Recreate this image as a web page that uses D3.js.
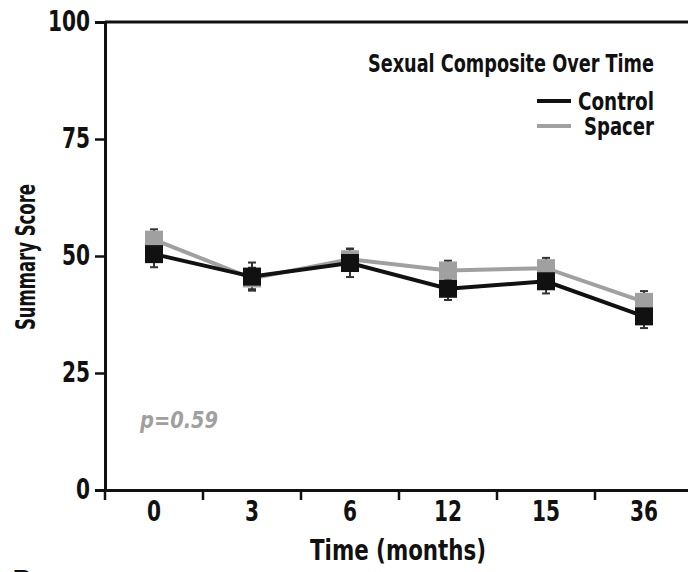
<!DOCTYPE html>
<html>
<head>
<meta charset="utf-8">
<script src="https://cdn.jsdelivr.net/npm/d3@7"></script>
<style>
  body { margin: 0; background: #fff; }
  svg text { font-family: "DejaVu Sans Condensed", "Liberation Sans Narrow", sans-serif; font-stretch: condensed; font-weight: bold; }
</style>
</head>
<body>
<svg id="chart" width="688" height="572"></svg>
<script>
// data
var months = ['0', '3', '6', '12', '15', '36'];
var controlMean = [50.4, 45.6, 48.5, 43.0, 44.6, 37.1];
var controlErr = [2.8, 3.0, 3.0, 2.4, 2.6, 2.5];
var spacerMean = [53.5, 45.2, 49.3, 46.9, 47.4, 40.2];
var spacerErr = [2.2, 2.3, 2.3, 2.1, 2.2, 2.3];
var yTicks = [0, 25, 50, 75, 100];

var mLeft = 105, mTop = 22, mBottom = 490, mRight = 693;

var svg = d3.select('#chart');

var x = d3.scaleBand().domain(months).range([mLeft, mRight]);
var y = d3.scaleLinear().domain([0, 100]).range([mBottom, mTop]);

// top border of the frame
svg.append('line')
	.attr('x1', mLeft).attr('x2', 688)
	.attr('y1', y(100)).attr('y2', y(100))
	.attr('stroke', '#111').attr('stroke-width', 3);

var yAxis = svg.append('g')
	.attr('transform', 'translate(' + mLeft + ',0)')
	.call(d3.axisLeft(y).tickValues(yTicks).tickSize(10).tickPadding(5));
yAxis.select('.domain').attr('stroke', '#111').attr('stroke-width', 3);
yAxis.selectAll('.tick line').attr('stroke', '#111').attr('stroke-width', 2.5);
yAxis.selectAll('.tick text').attr('font-size', 28).attr('fill', '#111')
	.attr('textLength', function(d) { return String(d).length * 14; })
	.attr('lengthAdjust', 'spacingAndGlyphs');

var xAxis = svg.append('g')
	.attr('transform', 'translate(0,' + mBottom + ')')
	.call(d3.axisBottom(x).tickSize(0).tickPadding(10));
xAxis.select('.domain').attr('stroke', '#111').attr('stroke-width', 3);
xAxis.selectAll('.tick text').attr('font-size', 28).attr('fill', '#111').attr('dy', '0.75em')
	.attr('textLength', function(d) { return d.length * 14; })
	.attr('lengthAdjust', 'spacingAndGlyphs');

// ticks sit on the band boundaries
xAxis.selectAll('line.sep')
	.data(months)
	.enter()
	.append('line')
	.attr('class', 'sep')
	.attr('x1', function(d) { return x(d); })
	.attr('x2', function(d) { return x(d); })
	.attr('y1', 0).attr('y2', 10)
	.attr('stroke', '#111').attr('stroke-width', 2.5);

svg.append('text')
	.attr('x', 398).attr('y', 560)
	.attr('text-anchor', 'middle')
	.attr('font-size', 28).attr('fill', '#111')
	.attr('textLength', 176).attr('lengthAdjust', 'spacingAndGlyphs')
	.text('Time (months)');

svg.append('text')
	.attr('transform', 'translate(35,257) rotate(-90)')
	.attr('text-anchor', 'middle')
	.attr('font-size', 27).attr('fill', '#111')
	.attr('textLength', 146).attr('lengthAdjust', 'spacingAndGlyphs')
	.text('Summary Score');

var series = [
	{ name: 'Spacer', mean: spacerMean, err: spacerErr, color: '#a0a0a0' },
	{ name: 'Control', mean: controlMean, err: controlErr, color: '#111' }
];

var cx = function(i) { return x(months[i]) + x.bandwidth() / 2; };

var line = d3.line()
	.x(function(d, i) { return cx(i); })
	.y(function(d) { return y(d); });

series.forEach(function(s) {
	var g = svg.append('g').attr('class', 'series');

	// error bars
	g.selectAll('line.err')
		.data(s.mean)
		.enter()
		.append('line')
		.attr('x1', function(d, i) { return cx(i); })
		.attr('x2', function(d, i) { return cx(i); })
		.attr('y1', function(d, i) { return y(d + s.err[i]); })
		.attr('y2', function(d, i) { return y(d - s.err[i]); })
		.attr('stroke', '#333').attr('stroke-width', 2);

	g.selectAll('line.capTop')
		.data(s.mean)
		.enter()
		.append('line')
		.attr('x1', function(d, i) { return cx(i) - 4; })
		.attr('x2', function(d, i) { return cx(i) + 4; })
		.attr('y1', function(d, i) { return y(d + s.err[i]); })
		.attr('y2', function(d, i) { return y(d + s.err[i]); })
		.attr('stroke', '#333').attr('stroke-width', 2);

	g.selectAll('line.capBot')
		.data(s.mean)
		.enter()
		.append('line')
		.attr('x1', function(d, i) { return cx(i) - 4; })
		.attr('x2', function(d, i) { return cx(i) + 4; })
		.attr('y1', function(d, i) { return y(d - s.err[i]); })
		.attr('y2', function(d, i) { return y(d - s.err[i]); })
		.attr('stroke', '#333').attr('stroke-width', 2);

	g.append('path')
		.datum(s.mean)
		.attr('d', line)
		.attr('fill', 'none')
		.attr('stroke', s.color)
		.attr('stroke-width', 4);
});

series.forEach(function(s) {
	svg.append('g').selectAll('rect')
		.data(s.mean)
		.enter()
		.append('rect')
		.attr('x', function(d, i) { return cx(i) - 9; })
		.attr('y', function(d) { return y(d) - 9; })
		.attr('width', 18).attr('height', 18)
		.attr('fill', s.color);
});

// legend
var legend = svg.append('g');
legend.append('text')
	.attr('x', 654).attr('y', 72)
	.attr('text-anchor', 'end')
	.attr('font-size', 24).attr('fill', '#111')
	.attr('textLength', 286).attr('lengthAdjust', 'spacingAndGlyphs')
	.text('Sexual Composite Over Time');

var legendItems = [series[1], series[0]];
var legendLen = [76, 70];
legendItems.forEach(function(s, i) {
	var yy = 101 + i * 25;
	legend.append('line')
		.attr('x1', 537).attr('x2', 571)
		.attr('y1', yy).attr('y2', yy)
		.attr('stroke', s.color).attr('stroke-width', 4);
	legend.append('text')
		.attr('x', 654).attr('y', yy + 9)
		.attr('text-anchor', 'end')
		.attr('font-size', 25).attr('fill', '#111')
		.attr('textLength', legendLen[i]).attr('lengthAdjust', 'spacingAndGlyphs')
		.text(s.name);
});

svg.append('text')
	.attr('x', 140).attr('y', 428)
	.attr('font-size', 23).attr('font-style', 'italic')
	.attr('fill', '#a0a0a0')
	.attr('textLength', 78).attr('lengthAdjust', 'spacingAndGlyphs')
	.text('p=0.59');

// panel letter cut off at the bottom edge
svg.append('text')
	.attr('x', 12).attr('y', 592)
	.attr('font-size', 30).attr('fill', '#111')
	.text('B');
</script>
</body>
</html>
